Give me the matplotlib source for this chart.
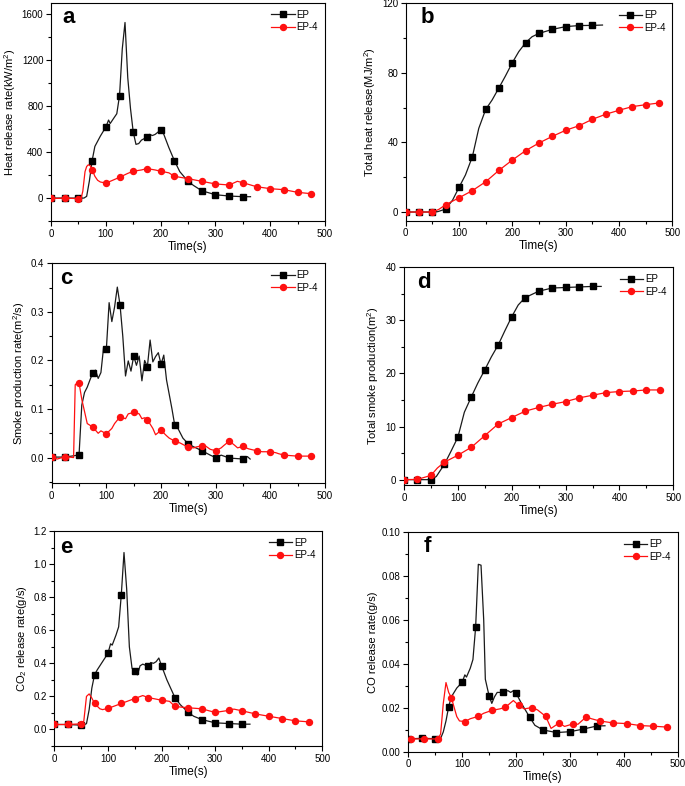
import numpy as np
import matplotlib
matplotlib.use("Agg")
import matplotlib.pyplot as plt
from matplotlib.ticker import MultipleLocator

plt.rcParams['font.family'] = ['Liberation Sans', 'DejaVu Sans']
plt.rcParams['mathtext.fontset'] = 'custom'
plt.rcParams['mathtext.rm'] = 'Liberation Sans'
plt.rcParams['mathtext.it'] = 'Liberation Sans:italic'
plt.rcParams['mathtext.bf'] = 'Liberation Sans:bold'

series_names = ["EP", "EP-4"]
x_label = "Time(s)"

# ---- (a) Heat release rate ----
a_t_ep = [0, 25, 50, 55, 60, 65, 70, 75, 80, 90, 100, 105, 108, 115, 120, 125, 130, 135, 140, 145,
          150, 155, 160, 165, 175, 180, 185, 190, 200, 205, 215, 225, 235, 250, 260, 275, 300, 325, 350, 364]
a_y_ep = [0, 0, 0, 0, 0, 15, 150, 327, 450, 540, 619, 680, 650, 700, 735, 893, 1300, 1530, 1050, 780,
          575, 468, 475, 505, 531, 555, 545, 555, 593, 565, 440, 327, 230, 146, 110, 64, 29, 18, 12, 12]
a_t_ep4 = [0, 10, 25, 50, 55, 58, 62, 65, 68, 72, 75, 80, 85, 90, 100, 110, 125, 140, 150, 165, 175, 190,
           200, 215, 225, 250, 275, 300, 325, 335, 340, 350, 375, 400, 425, 450, 475]
a_y_ep4 = [0, -3, 0, -5, 0, 60, 230, 275, 290, 280, 248, 190, 155, 140, 131, 150, 181, 215, 234, 245, 257, 245,
           234, 220, 190, 169, 146, 123, 114, 135, 146, 134, 99, 82, 73, 50, 38]

# ---- (b) Total heat release ----
b_t_ep = [0, 25, 50, 60, 75, 88, 100, 112, 125, 137, 150, 162, 175, 187, 200, 212, 225, 237, 250, 275, 300, 325, 350, 369]
b_y_ep = [0, 0, 0, 0.2, 1.7, 6.9, 14.2, 21.3, 31.8, 48.1, 59.0, 64.4, 71.5, 78.2, 85.9, 92.2, 97.4, 100.8,
          102.7, 105.0, 106.6, 107.2, 107.3, 107.5]
b_t_ep4 = [0, 25, 50, 62, 75, 100, 125, 150, 175, 200, 225, 250, 275, 300, 325, 350, 375, 400, 425, 450, 475]
b_y_ep4 = [0, 0, 0, 1.5, 4.2, 8.2, 12.3, 17.4, 24.0, 29.9, 35.3, 39.7, 43.5, 47.0, 49.6, 53.3, 56.2, 58.5,
           60.6, 61.7, 62.7]

# ---- (c) Smoke production rate ----
c_t_ep = [0, 25, 50, 55, 60, 65, 70, 75, 80, 85, 90, 95, 100, 105, 110, 115, 120, 125, 130, 135, 140, 145,
          150, 155, 160, 165, 170, 175, 180, 185, 190, 195, 200, 205, 210, 215, 220, 225, 230, 240, 250, 260,
          275, 290, 300, 310, 325, 350, 358, 363]
c_y_ep = [0.001, 0.001, 0.0055, 0.108, 0.134, 0.145, 0.16, 0.174, 0.18, 0.163, 0.175, 0.228, 0.224, 0.319,
          0.28, 0.31, 0.351, 0.314, 0.25, 0.168, 0.199, 0.178, 0.209, 0.19, 0.209, 0.158, 0.2, 0.187, 0.242,
          0.197, 0.208, 0.216, 0.192, 0.211, 0.16, 0.13, 0.1, 0.067, 0.062, 0.04, 0.028, 0.022, 0.014, 0.005,
          0.0, 0.005, -0.001, -0.003, 0.002, -0.003]
c_t_ep4 = [0, 10, 25, 40, 43, 45, 50, 55, 60, 65, 75, 85, 90, 95, 100, 110, 115, 125, 135, 140, 150, 160,
           165, 170, 175, 185, 190, 200, 210, 215, 225, 235, 240, 250, 260, 265, 275, 280, 290, 300, 310, 315,
           325, 335, 340, 350, 360, 375, 385, 400, 410, 415, 425, 450, 475]
c_y_ep4 = [0.002, -0.003, 0.002, 0.0, 0.15, 0.152, 0.154, 0.12, 0.095, 0.07, 0.063, 0.05, 0.055, 0.052,
           0.049, 0.06, 0.07, 0.084, 0.08, 0.09, 0.093, 0.09, 0.08, 0.082, 0.078, 0.06, 0.047, 0.056, 0.045,
           0.04, 0.034, 0.03, 0.027, 0.021, 0.02, 0.022, 0.024, 0.025, 0.017, 0.014, 0.02, 0.025, 0.034, 0.025,
           0.02, 0.023, 0.018, 0.014, 0.012, 0.012, 0.01, 0.008, 0.005, 0.003, 0.003]

# ---- (d) Total smoke production ----
d_t_ep = [0, 25, 50, 60, 75, 87, 100, 112, 125, 137, 150, 162, 175, 187, 200, 212, 225, 250, 275, 300, 325, 350, 366]
d_y_ep = [0, 0, 0, 0.6, 2.9, 5.3, 8.0, 12.7, 15.6, 18.2, 20.7, 23.1, 25.4, 28.0, 30.7, 32.9, 34.3, 35.5,
          36.1, 36.2, 36.3, 36.4, 36.4]
d_t_ep4 = [0, 25, 50, 62, 75, 100, 125, 150, 175, 200, 225, 250, 275, 300, 325, 350, 375, 400, 425, 450, 475]
d_y_ep4 = [0, 0.05, 0.8, 2.2, 3.3, 4.6, 6.1, 8.3, 10.5, 11.7, 12.9, 13.6, 14.2, 14.7, 15.4, 15.9, 16.4,
           16.6, 16.7, 16.9, 16.9]

# ---- (e) CO2 release rate ----
e_t_ep = [0, 25, 50, 55, 60, 65, 70, 75, 80, 90, 100, 105, 108, 115, 120, 125, 130, 135, 140, 145, 150, 155,
          160, 165, 175, 180, 185, 190, 195, 200, 210, 225, 235, 250, 260, 275, 300, 325, 350, 365]
e_y_ep = [0.03, 0.03, 0.026, 0.028, 0.035, 0.12, 0.25, 0.33, 0.36, 0.41, 0.46, 0.518, 0.51, 0.57, 0.62,
          0.816, 1.07, 0.85, 0.5, 0.37, 0.354, 0.33, 0.385, 0.395, 0.382, 0.405, 0.4, 0.41, 0.432, 0.386,
          0.3, 0.193, 0.15, 0.103, 0.08, 0.06, 0.04, 0.036, 0.032, 0.032]
e_t_ep4 = [0, 25, 50, 55, 60, 65, 70, 75, 85, 90, 100, 125, 150, 165, 175, 200, 215, 225, 250, 275, 300,
           325, 335, 350, 375, 400, 425, 450, 475]
e_y_ep4 = [0.03, 0.03, 0.034, 0.05, 0.2, 0.215, 0.19, 0.157, 0.125, 0.12, 0.127, 0.157, 0.187, 0.205, 0.193,
           0.177, 0.17, 0.139, 0.131, 0.125, 0.103, 0.115, 0.123, 0.113, 0.094, 0.08, 0.066, 0.052, 0.046]

# ---- (f) CO release rate ----
f_t_ep = [0, 25, 50, 55, 60, 65, 70, 75, 80, 90, 100, 105, 108, 115, 120, 125, 130, 135, 140, 143, 150, 155,
          160, 165, 175, 185, 190, 195, 200, 210, 225, 235, 250, 275, 300, 325, 350, 365]
f_y_ep = [0.0058, 0.0061, 0.0059, 0.0058, 0.006, 0.009, 0.014, 0.0205, 0.025, 0.029, 0.0316, 0.035, 0.034,
          0.038, 0.042, 0.0567, 0.0854, 0.085, 0.06, 0.033, 0.0254, 0.022, 0.025, 0.027, 0.027, 0.0278, 0.027,
          0.0278, 0.0267, 0.022, 0.0158, 0.012, 0.0099, 0.0087, 0.0091, 0.0103, 0.0117, 0.0118]
f_t_ep4 = [0, 5, 30, 55, 60, 65, 70, 75, 80, 90, 95, 105, 115, 130, 140, 155, 170, 180, 195, 205, 215, 230,
           240, 255, 265, 280, 290, 305, 315, 330, 340, 355, 380, 405, 430, 455, 480]
f_y_ep4 = [0.0058, 0.0058, 0.0058, 0.0058, 0.008, 0.022, 0.0315, 0.027, 0.0246, 0.016, 0.014, 0.0137, 0.015,
           0.0161, 0.0175, 0.0188, 0.0195, 0.0202, 0.0233, 0.0211, 0.0195, 0.0201, 0.019, 0.0161, 0.0106,
           0.0131, 0.0115, 0.0126, 0.0125, 0.0158, 0.015, 0.014, 0.0131, 0.0128, 0.0119, 0.0116, 0.0112]

panels = [
    dict(letter="a", t1=a_t_ep, y1=a_y_ep, t2=a_t_ep4, y2=a_y_ep4, off2=0,
         ylabel="Heat release rate(kW/m$^2$)", ylim=(-200, 1700), major=400, minor=200,
         pos=[0.0745, 0.7188, 0.4000, 0.2774], fmt="{:.0f}", let=(11, 4)),
    dict(letter="b", t1=b_t_ep, y1=b_y_ep, t2=b_t_ep4, y2=b_y_ep4, off2=0,
         ylabel="Total heat release(MJ/m$^2$)", ylim=(-5, 120), major=40, minor=20,
         pos=[0.5923, 0.7192, 0.3892, 0.2766], fmt="{:.0f}", let=(15, 4)),
    dict(letter="c", t1=c_t_ep, y1=c_y_ep, t2=c_t_ep4, y2=c_y_ep4, off2=0,
         ylabel="Smoke production rate(m$^2$/s)", ylim=(-0.053, 0.4), major=0.1, minor=0.05,
         pos=[0.0755, 0.3851, 0.3990, 0.2799], fmt="{:.1f}", let=(8, 5)),
    dict(letter="d", t1=d_t_ep, y1=d_y_ep, t2=d_t_ep4, y2=d_y_ep4, off2=0,
         ylabel="Total smoke production(m$^2$)", ylim=(-1, 40), major=10, minor=5,
         pos=[0.5898, 0.3830, 0.3932, 0.2769], fmt="{:.0f}", let=(13, 5)),
    dict(letter="e", t1=e_t_ep, y1=e_y_ep, t2=e_t_ep4, y2=e_y_ep4, off2=0,
         ylabel="CO$_2$ release rate(g/s)", ylim=(-0.1, 1.2), major=0.2, minor=0.1,
         pos=[0.0793, 0.0509, 0.3912, 0.2735], fmt="{:.1f}", let=(6, 6)),
    dict(letter="f", t1=f_t_ep, y1=f_y_ep, t2=f_t_ep4, y2=f_y_ep4, off2=5,
         ylabel="CO release rate(g/s)", ylim=(0, 0.10), major=0.02, minor=0.01,
         pos=[0.5960, 0.0437, 0.3934, 0.2791], fmt="{:.2f}", let=(15, 4)),
]

fig = plt.figure(figsize=(6.85, 7.86), dpi=100)

for p in panels:
    ax = fig.add_axes(p["pos"])
    t1 = np.array(p["t1"]); t2 = np.array(p["t2"])
    m1 = list((t1 % 25) == 0)
    m2 = list(((t2 - p["off2"]) % 25) == 0)
    ax.plot(t1, p["y1"], color="#1a1a1a", lw=0.9, marker="s", ms=3.8, markevery=m1,
            markerfacecolor="black", markeredgecolor="black",
            label=series_names[0], zorder=2)
    ax.plot(t2, p["y2"], color="#ff1010", lw=0.9, marker="o", ms=4.3, markevery=m2,
            label=series_names[1], zorder=3)
    ax.set_xlim(0, 500)
    ax.set_ylim(*p["ylim"])
    ax.xaxis.set_major_locator(MultipleLocator(100))
    ax.xaxis.set_minor_locator(MultipleLocator(50))
    ax.yaxis.set_major_locator(MultipleLocator(p["major"]))
    ax.yaxis.set_minor_locator(MultipleLocator(p["minor"]))
    fmt = p["fmt"]
    ax.yaxis.set_major_formatter(matplotlib.ticker.FuncFormatter(lambda v, pos, f=fmt: f.format(v)))
    ax.tick_params(which="major", direction="out", length=3.5, width=0.8, labelsize=7, pad=2)
    ax.tick_params(which="minor", direction="out", length=2, width=0.8)
    ax.tick_params(top=False, right=False)
    for s in ax.spines.values():
        s.set_linewidth(0.8)
    ax.set_xlabel(x_label, fontsize=8.5, labelpad=1.5)
    ax.set_ylabel(p["ylabel"], fontsize=8, labelpad=3)
    ax.legend(loc="upper right", frameon=False, fontsize=7, handlelength=2.4,
              handletextpad=0.2, borderaxespad=0.3, labelspacing=0.25)
    dx, dy = p["let"]
    bb = ax.get_position()
    W = 685 * bb.width; H = 786 * bb.height
    ax.text(dx / W, 1 - dy / H, p["letter"], transform=ax.transAxes, fontsize=16,
            fontweight="bold", va="top", ha="left")

fig.savefig("out.png", dpi=100)
